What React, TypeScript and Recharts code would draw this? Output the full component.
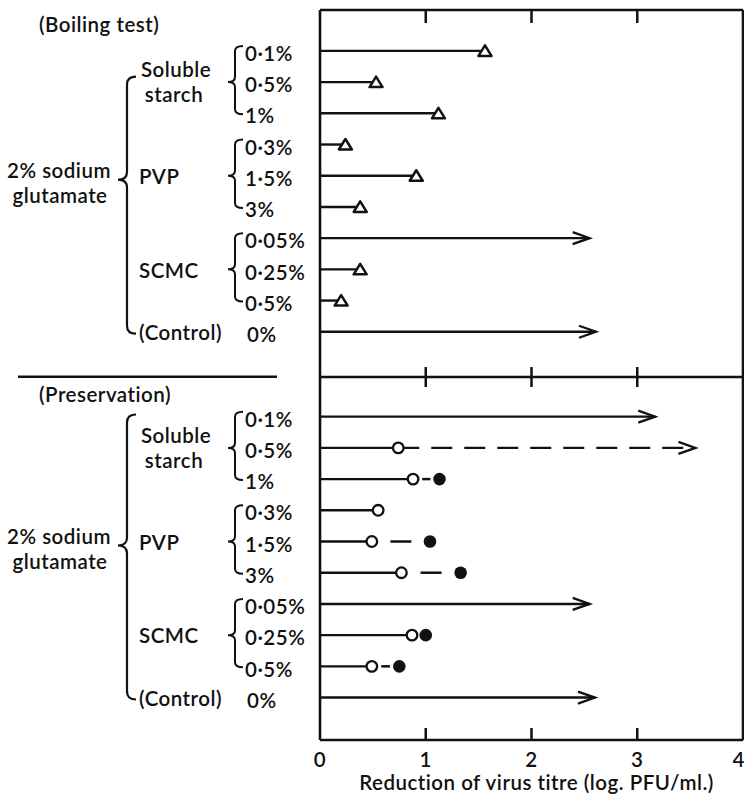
import React from "react";
import { ScatterChart, Scatter, XAxis, YAxis, ReferenceLine } from "recharts";

const FONT = "Lato, 'Open Sans', sans-serif";
const INK = "#111";

// Row labels, identical in both panels
const concLabels = ["0·1%", "0·5%", "1%", "0·3%", "1·5%", "3%", "0·05%", "0·25%", "0·5%", "0%"];
const groupLabels = [["Soluble", "starch"], ["PVP"], ["SCMC"], ["(Control)"]];
const groupRows = [[0, 1, 2], [3, 4, 5], [6, 7, 8], [9]];
const baseLabel = ["2% sodium", "glutamate"];
const panelTitles = ["(Boiling test)", "(Preservation)"];

// Boiling test: reduction (log PFU/ml), end marker
const boilValues = [1.56, 0.53, 1.12, 0.24, 0.91, 0.38, 2.55, 0.38, 0.2, 2.61];
const boilEnd = ["tri", "tri", "tri", "tri", "tri", "tri", "arrow", "tri", "tri", "arrow"];

// Preservation: open-circle value, end value and end marker
const presOpen = [null, 0.74, 0.88, 0.55, 0.49, 0.77, null, 0.87, 0.49, null];
const presEnd = [3.17, 3.55, 1.13, null, 1.04, 1.33, 2.55, 1.0, 0.75, 2.6];
const presEndKind = ["arrow", "arrow", "filled", null, "filled", "filled", "arrow", "filled", "filled", "arrow"];

const xTicks = [0, 1, 2, 3, 4];

// vertical layout of the rows (in row units)
const PANEL_OFFSET = [0, 11.72];
const Y_TOP = -1.31;
const Y_DIVIDER = 10.45;
const Y_BOTTOM = 22.08;
const ROW_PX = 31.2;

const rowY = (panel: number, i: number) => PANEL_OFFSET[panel] + i;
const rowTicks = [0, 1].flatMap((p) => concLabels.map((_, i) => rowY(p, i)));

type Pt = { x: number; y: number; m: string };
type Series = { key: string; kind: "solid" | "dashed" | "gap"; data: Pt[] };

const series: Series[] = [];
concLabels.forEach((_, i) => {
  const y = rowY(0, i);
  series.push({
    key: `b${i}`,
    kind: "solid",
    data: [
      { x: 0, y, m: "none" },
      { x: boilValues[i], y, m: boilEnd[i] },
    ],
  });
});
concLabels.forEach((_, i) => {
  const y = rowY(1, i);
  const open = presOpen[i];
  const end = presEnd[i];
  const endKind = presEndKind[i];
  if (open != null && end != null) {
    series.push({
      key: `pc${i}`,
      kind: endKind === "arrow" ? "dashed" : "gap",
      data: [
        { x: open, y, m: "none" },
        { x: end, y, m: endKind as string },
      ],
    });
  }
  series.push({
    key: `ps${i}`,
    kind: "solid",
    data: [
      { x: 0, y, m: "none" },
      { x: (open ?? end) as number, y, m: open != null ? "open" : (endKind as string) },
    ],
  });
});

const frameTicks = [1, 2, 3].flatMap((x) => [
  { x, y: Y_TOP, m: "top" },
  { x, y: Y_DIVIDER, m: "mid" },
  { x, y: Y_BOTTOM, m: "bottom" },
]);

const textStyle = { fontFamily: FONT, fontSize: 20.5, fontWeight: 600, letterSpacing: 0.5, fill: INK } as const;

function Marker(props: any) {
  const { cx, cy, payload } = props;
  if (cx == null || cy == null) return <g />;
  switch (payload.m) {
    case "tri":
      return (
        <polygon
          points={`${cx},${cy - 5.5} ${cx - 6.5},${cy + 5} ${cx + 6.5},${cy + 5}`}
          fill="#fff"
          stroke={INK}
          strokeWidth={2.5}
          strokeLinejoin="round"
        />
      );
    case "open":
      return <circle cx={cx} cy={cy} r={5.3} fill="#fff" stroke={INK} strokeWidth={2.3} />;
    case "filled":
      return <circle cx={cx} cy={cy} r={6.3} fill={INK} />;
    case "arrow":
      return (
        <polyline
          points={`${cx - 17},${cy - 6} ${cx},${cy} ${cx - 17},${cy + 6}`}
          fill="none"
          stroke={INK}
          strokeWidth={2.3}
        />
      );
    default:
      return <g />;
  }
}

function FrameTick(props: any) {
  const { cx, cy, payload } = props;
  const [a, b] = payload.m === "top" ? [0, 13] : payload.m === "mid" ? [-10, 10] : [-12, 0];
  return <line x1={cx} x2={cx} y1={cy + a} y2={cy + b} stroke={INK} strokeWidth={2.5} />;
}

// short dash centred between open and filled circle
function CenteredDash(props: any) {
  const [a, b] = props.points;
  const gap = b.x - a.x - 11.5;
  const len = Math.min(21, gap * 0.55);
  if (len < 3) return <g />;
  const mid = (a.x + b.x) / 2;
  return <line x1={mid - len / 2} x2={mid + len / 2} y1={a.y} y2={b.y} stroke={INK} strokeWidth={2.5} />;
}

function brace(tipX: number, spineX: number, hookX: number, yT: number, yM: number, yB: number, r: number) {
  return `M${hookX},${yT} Q${spineX},${yT} ${spineX},${yT + r} L${spineX},${yM - r} Q${spineX},${yM} ${tipX},${yM} Q${spineX},${yM} ${spineX},${yM + r} L${spineX},${yB - r} Q${spineX},${yB} ${hookX},${yB}`;
}

function RowTick(props: any) {
  const { y, payload } = props;
  const v = payload.value as number;
  const panel = v > Y_DIVIDER ? 1 : 0;
  const i = Math.round(v - PANEL_OFFSET[panel]);
  const out: React.ReactNode[] = [];

  out.push(
    <text key="c" x={i === 9 ? 247 : 245} y={y + 3} dy="0.35em" style={textStyle}>
      {concLabels[i]}
    </text>
  );

  if (i === 0) {
    out.push(
      <text key="t" x={39} y={y - (panel === 0 ? 26 : 22)} dy="0.35em" style={textStyle}>
        {panelTitles[panel]}
      </text>
    );
    if (panel === 1) {
      out.push(<line key="d" x1={18} x2={277} y1={y - 40} y2={y - 40} stroke={INK} strokeWidth={2.5} />);
    }
  }

  groupRows.forEach((rows, g) => {
    const mid = rows[Math.floor(rows.length / 2)];
    if (mid !== i) return;
    const lines = groupLabels[g];
    if (lines.length === 2) {
      out.push(
        <text key="g0" x={176} y={y - 12} dy="0.35em" textAnchor="middle" style={textStyle}>
          {lines[0]}
        </text>,
        <text key="g1" x={174} y={y + 13} dy="0.35em" textAnchor="middle" style={textStyle}>
          {lines[1]}
        </text>
      );
    } else {
      out.push(
        <text key="g0" x={139} y={y + 1} dy="0.35em" style={textStyle}>
          {lines[0]}
        </text>
      );
    }
    if (rows.length === 3) {
      out.push(
        <path
          key="b"
          d={brace(228, 235, 243, y - ROW_PX - 5, y, y + ROW_PX + 1, 5)}
          fill="none"
          stroke={INK}
          strokeWidth={2}
        />
      );
    }
  });

  if (i === 4) {
    const yT = y - (panel === 0 ? 99 : 127);
    out.push(
      <path key="B" d={brace(118, 127, 136, yT, y + 4, y + 158, 8)} fill="none" stroke={INK} strokeWidth={2.2} />,
      <text key="s0" x={59} y={y - 5} dy="0.35em" textAnchor="middle" style={textStyle}>
        {baseLabel[0]}
      </text>,
      <text key="s1" x={60} y={y + 20} dy="0.35em" textAnchor="middle" style={textStyle}>
        {baseLabel[1]}
      </text>
    );
  }
  return <g>{out}</g>;
}

export default function App() {
  return (
    <div style={{ position: "absolute", left: 0, top: 0, width: 744, height: 803, background: "#fff" }}>
      <ScatterChart width={744} height={803} margin={{ top: 10, right: 1, bottom: 0, left: 0 }}>
        <XAxis
          type="number"
          dataKey="x"
          domain={[0, 4]}
          ticks={xTicks}
          allowDataOverflow
          axisLine={false}
          tickLine={false}
          tickSize={0}
          tickMargin={12}
          height={63}
          tick={textStyle}
          label={{
            value: "Reduction of virus titre (log. PFU/ml.)",
            position: "insideBottom",
            offset: 13,
            dx: 5,
            style: textStyle,
          }}
        />
        <YAxis
          type="number"
          dataKey="y"
          domain={[Y_TOP, Y_BOTTOM]}
          reversed
          allowDataOverflow
          ticks={rowTicks}
          interval={0}
          width={320}
          axisLine={false}
          tickLine={false}
          tick={(p: any) => <RowTick {...p} />}
        />
        <ReferenceLine x={0} stroke={INK} strokeWidth={2.6} />
        <ReferenceLine x={4} stroke={INK} strokeWidth={2.6} />
        <ReferenceLine y={Y_TOP} stroke={INK} strokeWidth={2.6} />
        <ReferenceLine y={Y_DIVIDER} stroke={INK} strokeWidth={2.6} />
        <ReferenceLine y={Y_BOTTOM} stroke={INK} strokeWidth={2.6} />
        <Scatter data={frameTicks} shape={(p: any) => <FrameTick {...p} />} isAnimationActive={false} />
        {series.map((s) => (
          <Scatter
            key={s.key}
            data={s.data}
            fill={INK}
            isAnimationActive={false}
            line={
              s.kind === "gap"
                ? (p: any) => <CenteredDash {...p} />
                : {
                    stroke: INK,
                    strokeWidth: 2.4,
                    strokeDasharray: s.kind === "dashed" ? "21 12" : undefined,
                  }
            }
            lineType="joint"
            shape={(p: any) => <Marker {...p} />}
          />
        ))}
      </ScatterChart>
    </div>
  );
}
